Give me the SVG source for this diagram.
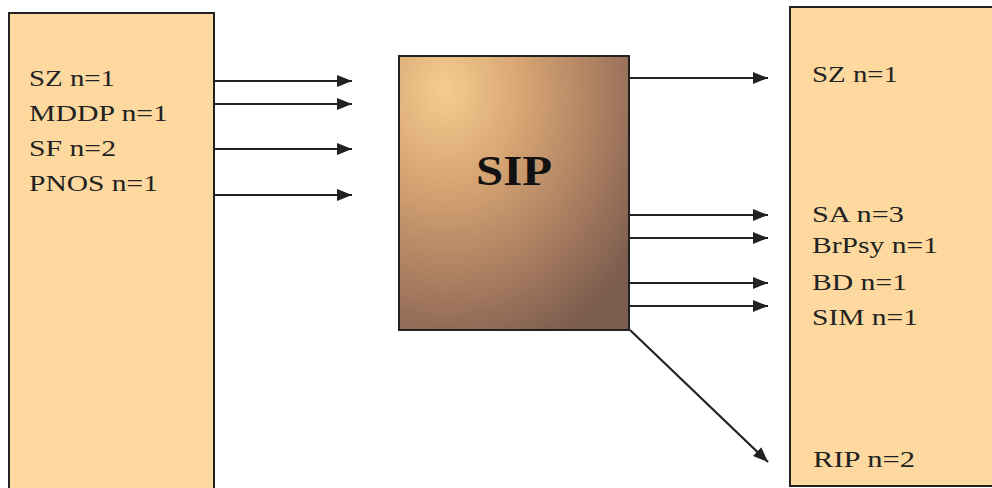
<svg xmlns="http://www.w3.org/2000/svg" width="992" height="488" viewBox="0 0 992 488">
<defs>
<style>
.box{fill:#fed99f;stroke:#222;stroke-width:2}
.lbl{font-family:"Liberation Serif","Times New Roman",serif;font-size:23px;fill:#222}
.con{stroke:#222;stroke-width:2.2;fill:none;marker-end:url(#ah)}
</style>
<marker id="ah" viewBox="0 0 15 12" refX="15" refY="6" markerWidth="15" markerHeight="12" markerUnits="userSpaceOnUse" orient="auto">
<path d="M0,0 L15,6 L0,12 Z" fill="#222"/>
</marker>
<radialGradient id="sipg" cx="0.2" cy="0.15" r="1.0" fx="0.2" fy="0.12">
<stop offset="0" stop-color="#f6cc90"/>
<stop offset="0.35" stop-color="#d6a472"/>
<stop offset="0.7" stop-color="#a87c60"/>
<stop offset="1" stop-color="#7c5c4e"/>
</radialGradient>
</defs>
<rect width="992" height="488" fill="#fff"/>
<g id="left">
<rect class="box" x="9" y="13" width="205" height="490"/>
<text class="lbl" x="29" y="86" textLength="86" lengthAdjust="spacingAndGlyphs">SZ n=1</text>
<text class="lbl" x="29" y="121" textLength="139" lengthAdjust="spacingAndGlyphs">MDDP n=1</text>
<text class="lbl" x="29" y="156" textLength="87" lengthAdjust="spacingAndGlyphs">SF n=2</text>
<text class="lbl" x="29" y="191" textLength="129" lengthAdjust="spacingAndGlyphs">PNOS n=1</text>
</g>
<g id="sip">
<rect x="399" y="56" width="230" height="274" fill="url(#sipg)" stroke="#222" stroke-width="2"/>
<text x="476" y="185" textLength="76" lengthAdjust="spacingAndGlyphs" font-family="'Liberation Serif','Times New Roman',serif" font-size="42" font-weight="bold" fill="#111">SIP</text>
</g>
<g id="right">
<rect class="box" x="790" y="7" width="215" height="479"/>
<text class="lbl" x="812" y="82" textLength="86" lengthAdjust="spacingAndGlyphs">SZ n=1</text>
<text class="lbl" x="812" y="222" textLength="92" lengthAdjust="spacingAndGlyphs">SA n=3</text>
<text class="lbl" x="812" y="253" textLength="126" lengthAdjust="spacingAndGlyphs">BrPsy n=1</text>
<text class="lbl" x="812" y="290" textLength="95" lengthAdjust="spacingAndGlyphs">BD n=1</text>
<text class="lbl" x="812" y="325" textLength="106" lengthAdjust="spacingAndGlyphs">SIM n=1</text>
<text class="lbl" x="813" y="467" textLength="102" lengthAdjust="spacingAndGlyphs" fill="#3a2414">RIP n=2</text>
</g>
<g id="connectors">
<line class="con" x1="215" y1="81" x2="352" y2="81"/>
<line class="con" x1="215" y1="104" x2="352" y2="104"/>
<line class="con" x1="215" y1="149" x2="352" y2="149"/>
<line class="con" x1="215" y1="195" x2="352" y2="195"/>
<line class="con" x1="630" y1="78" x2="768" y2="78"/>
<line class="con" x1="630" y1="215" x2="768" y2="215"/>
<line class="con" x1="630" y1="238" x2="768" y2="238"/>
<line class="con" x1="630" y1="283" x2="768" y2="283"/>
<line class="con" x1="630" y1="306" x2="768" y2="306"/>
<line class="con" x1="630" y1="330" x2="768" y2="462"/>
</g>
</svg>
